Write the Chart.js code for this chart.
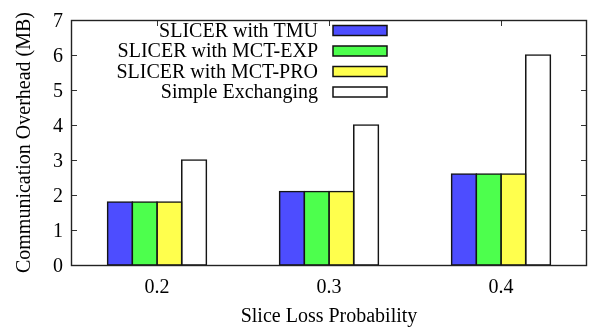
<!DOCTYPE html>
<html>
<head>
<meta charset="utf-8">
<script src="https://cdn.jsdelivr.net/npm/chart.js@4.4.1/dist/chart.umd.min.js"></script>
<style>
  html, body { margin: 0; padding: 0; background: #fff; }
  #wrap { width: 589px; height: 330px; position: relative; }
</style>
</head>
<body>
<div id="wrap"><canvas id="c" width="589" height="330"></canvas></div>
<script>
const categories = ['0.2', '0.3', '0.4'];
const seriesNames = ['SLICER with TMU', 'SLICER with MCT-EXP', 'SLICER with MCT-PRO', 'Simple Exchanging'];
const tmu = [1.8, 2.1, 2.6];
const mctExp = [1.8, 2.1, 2.6];
const mctPro = [1.8, 2.1, 2.6];
const simple = [3.0, 4.0, 6.0];
const yTicks = [0, 1, 2, 3, 4, 5, 6, 7];
const colors = ['#4d4dff', '#4dff4d', '#ffff4d', '#ffffff'];

const FONT = 'Liberation Serif';
const FS = 20;

const framePlugin = {
  id: 'frame',
  beforeDatasetsDraw(chart) {
    const ctx = chart.ctx;
    const a = chart.chartArea;
    const xs = chart.scales.x, ys = chart.scales.y;
    ctx.save();
    ctx.strokeStyle = '#333';
    ctx.lineWidth = 1;
    ctx.beginPath();
    yTicks.forEach(v => {
      const y = Math.round(ys.getPixelForValue(v)) + 0.5;
      ctx.moveTo(a.left, y); ctx.lineTo(a.left + 6, y);
      ctx.moveTo(a.right, y); ctx.lineTo(a.right - 6, y);
    });
    categories.forEach((c, i) => {
      const x = Math.round(xs.getPixelForValue(i)) + 0.5;
      ctx.moveTo(x, a.top); ctx.lineTo(x, a.top + 6);
      ctx.moveTo(x, a.bottom); ctx.lineTo(x, a.bottom - 6);
    });
    ctx.stroke();
    ctx.restore();
  },
  afterDatasetsDraw(chart) {
    const ctx = chart.ctx;
    const a = chart.chartArea;
    ctx.save();
    ctx.strokeStyle = '#222';
    ctx.lineWidth = 1.4;
    ctx.strokeRect(Math.round(a.left) + 0.5, Math.round(a.top) + 0.5, Math.round(a.right - a.left) - 1, Math.round(a.bottom - a.top));
    ctx.restore();
  },
  afterDraw(chart) {
    const ctx = chart.ctx;
    ctx.save();
    ctx.font = FS + 'px "' + FONT + '"';
    ctx.textAlign = 'right';
    ctx.textBaseline = 'middle';
    const textRight = 318, boxL = 333, boxW = 54, boxH = 10;
    const rows = [30.5, 51, 71.5, 92];
    chart.data.datasets.forEach((ds, i) => {
      const cy = rows[i];
      ctx.fillStyle = '#000';
      ctx.fillText(ds.label, textRight, cy + 1);
      ctx.fillStyle = ds.backgroundColor;
      ctx.fillRect(boxL, cy - boxH / 2, boxW, boxH);
      ctx.strokeStyle = '#111';
      ctx.lineWidth = 1.5;
      ctx.strokeRect(boxL, cy - boxH / 2, boxW, boxH);
    });
    ctx.restore();
  }
};

const dataArrays = [tmu, mctExp, mctPro, simple];

new Chart(document.getElementById('c'), {
  type: 'bar',
  data: {
    labels: categories,
    datasets: seriesNames.map((n, i) => ({
      label: n,
      data: dataArrays[i],
      backgroundColor: colors[i],
      borderColor: '#151515',
      borderWidth: 1.6,
      borderSkipped: false,
      inflateAmount: 0.8,
      barPercentage: 1.0,
      categoryPercentage: 0.575
    }))
  },
  options: {
    responsive: false,
    animation: false,
    devicePixelRatio: 1,
    layout: { padding: { left: 0, right: 2, top: 10, bottom: 0 } },
    plugins: { legend: { display: false }, tooltip: { enabled: false } },
    scales: {
      x: {
        grid: { display: false, drawTicks: false },
        border: { display: false },
        ticks: { color: '#000', font: { family: FONT, size: FS }, padding: 11 },
        title: { display: true, text: 'Slice Loss Probability', color: '#000', font: { family: FONT, size: FS }, padding: { top: 0, bottom: 1 } },
        afterFit(s) { s.height = 65; }
      },
      y: {
        min: 0, max: 7,
        grid: { display: false, drawTicks: false },
        border: { display: false },
        afterBuildTicks(s) { s.ticks = yTicks.map(v => ({ value: v })); },
        ticks: { color: '#000', font: { family: FONT, size: FS }, padding: 8, labelOffset: 2 },
        title: { display: true, text: 'Communication Overhead (MB)', color: '#000', font: { family: FONT, size: FS }, padding: { top: 13, bottom: 0 } },
        afterFit(s) { s.width = 71; }
      }
    }
  },
  plugins: [framePlugin]
});
</script>
</body>
</html>
